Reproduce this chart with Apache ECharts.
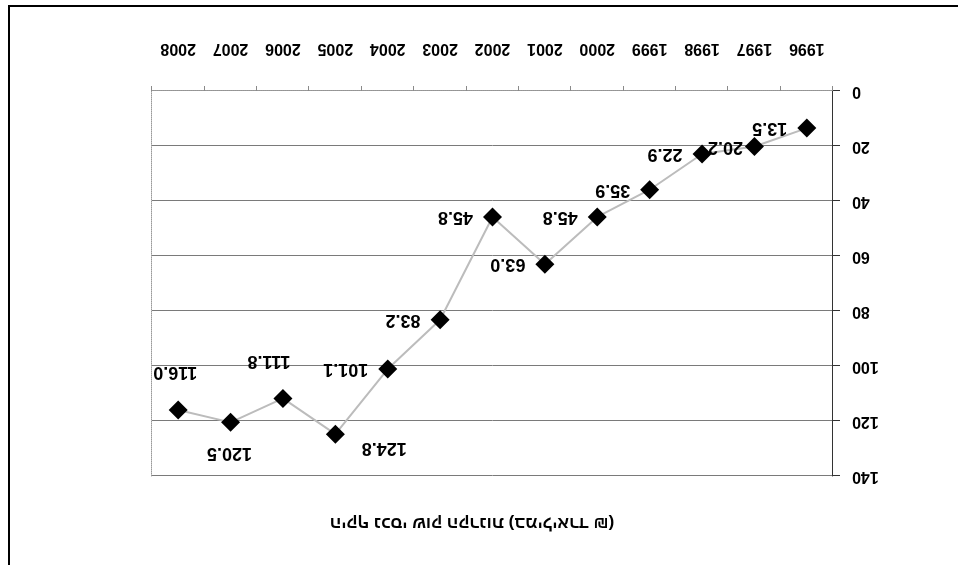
<!DOCTYPE html>
<html>
<head>
<meta charset="utf-8">
<script src="https://cdn.jsdelivr.net/npm/echarts@6/dist/echarts.min.js"></script>
<style>
    html, body { margin: 0; padding: 0; background: #fff; }
    /* the reference is a scan lying upside down, so the whole chart is turned */
    #chart { width: 958px; height: 565px; transform: rotate(180deg); }
</style>
</head>
<body>
<div id="chart"></div>
<script>
var years = ['1996', '1997', '1998', '1999', '2000', '2001', '2002', '2003', '2004', '2005', '2006', '2007', '2008'];
var assets = [13.5, 20.2, 22.9, 35.9, 45.8, 63.0, 45.8, 83.2, 101.1, 124.8, 111.8, 120.5, 116.0];
var yTicks = [0, 20, 40, 60, 80, 100, 120, 140];
var titleText = 'היקף נכסי שוק הקרנות (במיליארד ₪)';

var font = "'Liberation Sans', Arial, 'DejaVu Sans', sans-serif";

// labels that were dragged off their default spot (index -> offset from the point)
var movedLabels = {
    1: { position: 'right', distance: 9, offset: [-7, 0] },
    9: { position: 'inside', offset: [-49, -14] },
    10: { position: 'inside', offset: [14, 37] },
    11: { position: 'inside', offset: [1, -31] },
    12: { position: 'inside', offset: [3, 38] }
};

var points = assets.map(function (v, i) {
    var p = { value: v };
    if (movedLabels[i]) p.label = movedLabels[i];
    return p;
});

var myChart = echarts.init(document.getElementById('chart'));
var option = {
    animation: false,
    backgroundColor: '#fff',
    grid: { left: 125, right: 152, top: 89, bottom: 91 },
    graphic: [
        {
            type: 'rect',
            shape: { x: -5, y: -5, width: 954, height: 564 },
            style: { fill: 'none', stroke: '#000', lineWidth: 2 }
        },
        {
            type: 'text',
            x: 486, y: 42,
            style: {
                text: '\u202B' + titleText + '\u202C',
                font: 'bold 17px ' + font,
                fill: '#000',
                align: 'center',
                verticalAlign: 'middle'
            }
        }
    ],
    xAxis: [
        {
            type: 'category',
            data: years,
            boundaryGap: true,
            axisLine: { lineStyle: { color: '#8a8a8a', width: 1 } },
            axisTick: { show: true, length: 5, lineStyle: { color: '#8a8a8a' } },
            axisLabel: { color: '#000', fontFamily: font, fontWeight: 'bold', fontSize: 16, margin: 35, interval: 0 }
        },
        {
            type: 'category',
            position: 'top',
            data: years,
            axisLine: { lineStyle: { color: '#9a9a9a', type: 'dotted', width: 1 } },
            axisTick: { show: false },
            axisLabel: { show: false }
        }
    ],
    yAxis: [
        {
            type: 'value',
            min: yTicks[0],
            max: yTicks[yTicks.length - 1],
            interval: 20,
            axisLine: { show: true, lineStyle: { color: '#333', width: 1 } },
            axisTick: { show: true, length: 7, lineStyle: { color: '#333' } },
            axisLabel: { color: '#000', fontFamily: font, fontWeight: 'bold', fontSize: 16, margin: 19 },
            splitLine: { show: true, lineStyle: { color: '#7a7a7a', width: 1 } }
        },
        {
            type: 'value',
            position: 'right',
            min: yTicks[0],
            max: yTicks[yTicks.length - 1],
            interval: 20,
            axisLine: { show: true, lineStyle: { color: '#9a9a9a', type: 'dotted', width: 1 } },
            axisTick: { show: false },
            axisLabel: { show: false },
            splitLine: { show: false }
        }
    ],
    series: [{
        type: 'line',
        data: points,
        symbol: 'diamond',
        symbolSize: 19,
        itemStyle: { color: '#000' },
        lineStyle: { color: '#bcbcbc', width: 2 },
        label: {
            show: true,
            position: 'right',
            distance: 10,
            color: '#000',
            fontFamily: font,
            fontWeight: 'bold',
            fontSize: 18,
            formatter: function (p) { return p.value.toFixed(1); }
        },
        z: 3
    }]
};
myChart.setOption(option);
</script>
</body>
</html>
